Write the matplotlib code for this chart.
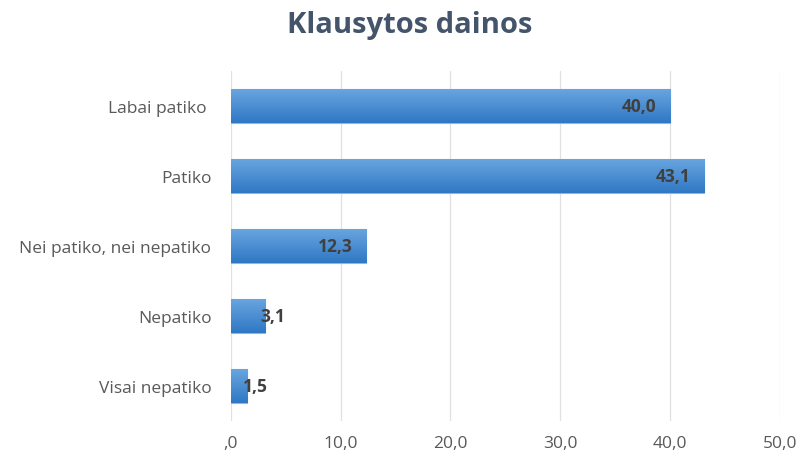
import matplotlib
matplotlib.use("Agg")
import matplotlib.pyplot as plt
import numpy as np
from matplotlib.colors import LinearSegmentedColormap

categories = ["Labai patiko ", "Patiko", "Nei patiko, nei nepatiko", "Nepatiko", "Visai nepatiko"]
values = [40.0, 43.1, 12.3, 3.1, 1.5]
xticks = [0, 10, 20, 30, 40, 50]
xtick_labels = [",0", "10,0", "20,0", "30,0", "40,0", "50,0"]

plt.rcParams['font.family'] = ['Open Sans', 'DejaVu Sans']

fig = plt.figure(figsize=(7.99, 4.64), dpi=100)
ax = fig.add_axes([0.289, 0.09, 0.687, 0.755])

ypos = np.arange(len(categories))
bar_h = 0.49
bars = ax.barh(ypos, values, height=bar_h, color="#4A8FD4", edgecolor="#8BB8E6", linewidth=0.8, zorder=2)

cmap = LinearSegmentedColormap.from_list("g", ["#2F78C4", "#6AA6E0"])
grad = np.linspace(0, 1, 64).reshape(-1, 1)
for b in bars:
    x0, y0 = b.get_x(), b.get_y()
    w, h = b.get_width(), b.get_height()
    im = ax.imshow(grad, cmap=cmap, aspect="auto", extent=[x0, x0 + w, y0, y0 + h],
                   origin="upper", zorder=2.5, interpolation="bicubic")
    im.set_clip_path(b)

for y, v in zip(ypos, values):
    lab = f"{v:.1f}".replace(".", ",")
    if v >= 5:
        ax.annotate(lab, (v, y), xytext=(-9.5, 0), textcoords="offset points",
                    ha="right", va="center", fontsize=12.5, fontweight="bold",
                    color="#404040", zorder=4)
    else:
        ax.annotate(lab, (v, y), xytext=(-3.5, 0), textcoords="offset points",
                    ha="left", va="center", fontsize=12.5, fontweight="bold",
                    color="#404040", zorder=4)

ax.set_ylim(len(categories) - 0.5, -0.5)
ax.set_xlim(0, 50)
ax.set_yticks(ypos)
ax.set_yticklabels(categories, fontsize=12.5, color="#595959")
ax.set_xticks(xticks)
ax.set_xticklabels(xtick_labels, fontsize=12.5, color="#595959")
ax.tick_params(axis="both", length=0)
ax.tick_params(axis="y", pad=14)
ax.tick_params(axis="x", pad=10)
ax.grid(axis="x", color="#E0E0E0", linewidth=0.9, zorder=0)
ax.set_axisbelow(True)
for s in ax.spines.values():
    s.set_visible(False)

fig.text(0.513, 0.945, "Klausytos dainos", ha="center", va="center",
         fontsize=21, fontweight="bold", color="#44546A")

fig.savefig("out.png", dpi=100)
